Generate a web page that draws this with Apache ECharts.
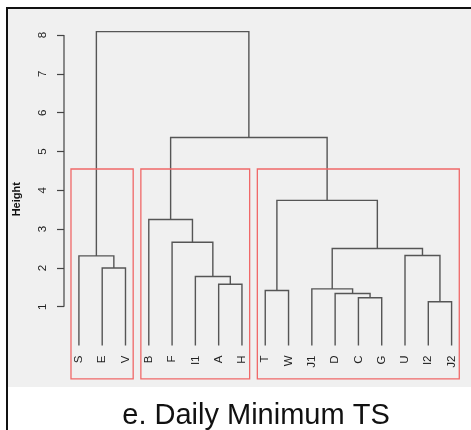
<!DOCTYPE html>
<html>
<head>
<meta charset="utf-8">
<script src="https://cdn.jsdelivr.net/npm/echarts@6/dist/echarts.min.js"></script>
<style>
  html, body { margin: 0; padding: 0; background: #fff; }
  #chart { width: 471px; height: 430px; }
</style>
</head>
<body>
<div id="chart"></div>
<script>
// leaves in plotting order
var leafNames = ["S", "E", "V", "B", "F", "I1", "A", "H", "T", "W", "J1", "D", "C", "G", "U", "I2", "J2"];

// hclust style merge table: negative = leaf (1-based), positive = earlier merge
var mergeLeft   = [-16, -13, -12, -9, -11, -7, -6, -2, -1, -15, 5, -5, -4, 4, 13, 9];
var mergeRight  = [-17, -14, 2, -10, 3, -8, 6, -3, 8, 1, 10, 7, 12, 11, 14, 15];
var mergeHeight = [1.13, 1.23, 1.34, 1.42, 1.46, 1.58, 1.78, 2.00, 2.31, 2.32, 2.50, 2.66, 3.25, 3.74, 5.36, 8.09];

var yTicks = [1, 2, 3, 4, 5, 6, 7, 8];
var nClusters = 3;

var xMin = -0.64, xMax = leafNames.length - 1 + 0.64;
var yMin = -0.86, yMax = 8.4;

var mergePos = [];
function nodeX(id) {
  return id < 0 ? (-id - 1) : mergePos[id - 1];
}
function nodeH(id) {
  return id < 0 ? 0 : mergeHeight[id - 1];
}
function leavesOf(id) {
  if (id < 0) return [-id - 1];
  return leavesOf(mergeLeft[id - 1]).concat(leavesOf(mergeRight[id - 1]));
}

function buildSegments() {
  var out = [];
  for (var i = 0; i < mergeLeft.length; i++) {
    var xl = nodeX(mergeLeft[i]), xr = nodeX(mergeRight[i]);
    mergePos.push((xl + xr) / 2);
    out.push([xl, nodeH(mergeLeft[i]), xr, nodeH(mergeRight[i]), mergeHeight[i]]);
  }
  return out;
}

// rect.hclust: cut the top (k-1) merges
function buildBoxes() {
  var clusters = [mergeLeft.length];
  while (clusters.length < nClusters) {
    var topId = Math.max.apply(null, clusters.filter(function (c) { return c > 0; }));
    var idx = clusters.indexOf(topId);
    clusters.splice(idx, 1, mergeLeft[topId - 1], mergeRight[topId - 1]);
  }
  var sortedH = mergeHeight.slice().sort(function (a, b) { return b - a; });
  var cutH = (sortedH[nClusters - 2] + sortedH[nClusters - 1]) / 2;
  return clusters.map(function (c) {
    var lv = leavesOf(c);
    return [Math.min.apply(null, lv) - 0.34, yMin, Math.max.apply(null, lv) + 0.33, cutH];
  });
}

var segData = buildSegments();
var boxData = buildBoxes();
var leafIdx = leafNames.map(function (n, i) { return i; });

var chart = echarts.init(document.getElementById("chart"));
var option = {
  animation: false,
  backgroundColor: "#fff",
  textStyle: { fontFamily: "Liberation Sans" },
  graphic: [
    { type: "rect", z: -10, shape: { x: 7, y: 8, width: 500, height: 500 },
      style: { fill: "#fff", stroke: "#111", lineWidth: 2 } },
    { type: "rect", z: -9, shape: { x: 8, y: 9, width: 480, height: 378 },
      style: { fill: "#f0f0f0" } },
    { type: "text", x: 256, y: 416,
      style: { text: "e. Daily Minimum TS", fontSize: 29, fontFamily: "Liberation Sans",
        fill: "#111", textAlign: "center", textVerticalAlign: "middle" } }
  ],
  grid: { left: 64, right: 4.5, top: 19.6, bottom: 51.1, containLabel: false, outerBoundsMode: "none" },
  xAxis: {
    type: "value", min: xMin, max: xMax,
    offset: -33.4,
    axisLine: { show: false, onZero: false },
    axisTick: { show: false },
    splitLine: { show: false },
    axisLabel: {
      customValues: leafIdx,
      formatter: function (v) { return leafNames[Math.round(v)]; },
      rotate: 90, margin: 10, fontSize: 11.5, color: "#222"
    }
  },
  yAxis: {
    type: "value", min: yMin, max: yMax,
    name: "Height", nameLocation: "middle", nameGap: 42, nameRotate: 90,
    nameTextStyle: { fontWeight: "bold", fontSize: 11, color: "#111" },
    axisLine: { show: false, onZero: false },
    axisTick: { show: true, customValues: yTicks, length: 7, lineStyle: { color: "#444", width: 1.2 } },
    axisLabel: { customValues: yTicks, rotate: 90, margin: 15, fontSize: 11.5, color: "#222" },
    splitLine: { show: false }
  },
  series: [
    {
      type: "custom",
      data: segData,
      encode: { x: [0, 2], y: [1, 3, 4] },
      renderItem: function (params, api) {
        var a = api.coord([api.value(0), api.value(1)]);
        var b = api.coord([api.value(0), api.value(4)]);
        var c = api.coord([api.value(2), api.value(4)]);
        var d = api.coord([api.value(2), api.value(3)]);
        return { type: "polyline", shape: { points: [a, b, c, d] },
          style: { stroke: "#555", lineWidth: 1.4, fill: null } };
      }
    },
    {
      type: "custom",
      data: boxData,
      encode: { x: [0, 2], y: [1, 3] },
      renderItem: function (params, api) {
        var p0 = api.coord([api.value(0), api.value(3)]);
        var p1 = api.coord([api.value(2), api.value(1)]);
        return { type: "rect", shape: { x: p0[0], y: p0[1], width: p1[0] - p0[0], height: p1[1] - p0[1] },
          style: { stroke: "#f06868", fill: null, lineWidth: 1.3 } };
      }
    },
    {
      type: "line",
      clip: false,
      symbol: "none",
      data: [[xMin, yTicks[0]], [xMin, yTicks[yTicks.length - 1]]],
      lineStyle: { color: "#444", width: 1.2 }
    }
  ]
};
chart.setOption(option);
</script>
</body>
</html>
